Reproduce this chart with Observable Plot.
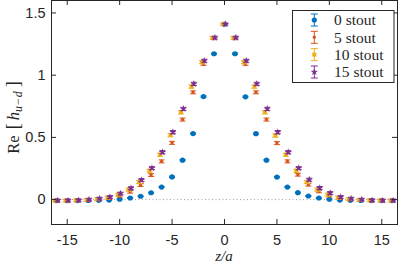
<!DOCTYPE html>
<html><head><meta charset="utf-8">
<script src="https://cdn.jsdelivr.net/npm/d3@7"></script>
<script src="https://cdn.jsdelivr.net/npm/@observablehq/plot@0.6"></script>
<style>body{margin:0;background:#fff}</style>
</head><body><div id="chart"></div>
<script>
const zValues = [-16,-15,-14,-13,-12,-11,-10,-9,-8,-7,-6,-5,-4,-3,-2,-1,0,1,2,3,4,5,6,7,8,9,10,11,12,13,14,15,16];
const seriesNames = ["0 stout","5 stout","10 stout","15 stout"];
const stout0 = [-0.008,-0.008,-0.008,-0.007,-0.006,-0.004,0.003,0.013,0.027,0.055,0.101,0.182,0.317,0.531,0.828,1.172,1.41,1.172,0.826,0.530,0.317,0.181,0.101,0.056,0.029,0.013,0.003,-0.004,-0.006,-0.007,-0.008,-0.008,-0.008];
const stout5 = [-0.008,-0.008,-0.007,-0.005,0.001,0.011,0.031,0.063,0.117,0.197,0.307,0.456,0.643,0.862,1.090,1.295,1.41,1.295,1.090,0.862,0.643,0.454,0.307,0.200,0.120,0.066,0.031,0.011,0.001,-0.005,-0.007,-0.008,-0.008];
const stout10 = [-0.008,-0.008,-0.006,-0.003,0.004,0.016,0.040,0.080,0.141,0.232,0.360,0.518,0.702,0.908,1.104,1.300,1.41,1.300,1.104,0.908,0.702,0.515,0.360,0.232,0.141,0.080,0.040,0.016,0.004,-0.003,-0.006,-0.008,-0.008];
const stout15 = [-0.007,-0.007,-0.005,0.000,0.008,0.021,0.049,0.091,0.157,0.253,0.381,0.542,0.729,0.930,1.116,1.302,1.41,1.302,1.116,0.930,0.729,0.542,0.381,0.253,0.160,0.093,0.053,0.021,0.008,0.000,-0.005,-0.007,-0.007];
// errors indexed by |z| = 0..16
const err0 = [0.004,0.005,0.005,0.005,0.005,0.005,0.004,0.004,0.004,0.004,0.004,0.004,0.004,0.004,0.004,0.004,0.004];
const err5 = [0.008,0.010,0.011,0.012,0.012,0.012,0.012,0.011,0.011,0.011,0.010,0.010,0.010,0.010,0.010,0.010,0.010];
const err10 = [0.008,0.011,0.012,0.013,0.013,0.013,0.013,0.012,0.012,0.012,0.011,0.011,0.011,0.011,0.011,0.011,0.011];
const err15 = [0.008,0.011,0.012,0.013,0.013,0.013,0.013,0.012,0.012,0.012,0.011,0.011,0.011,0.011,0.011,0.011,0.011];
const xTicks = [-15,-10,-5,0,5,10,15];
const yTicks = [0,0.5,1,1.5];
const yTickLabels = ["0","0.5","1","1.5"];

const values = [stout0, stout5, stout10, stout15];
const errors = [err0, err5, err10, err15];
const colors = ["#0072BD","#D95319","#EDB120","#7E2F8E"];
const dodge = [0, 0, -0.15, 0.08];
const markerSym = ["circle","circle","square","star"];
const markerR = [2.6, 1.7, 2.3, 2.3];
const axisColor = "#262626";

const cap = {draw(ctx, size){ const w = Math.sqrt(size/Math.PI); ctx.moveTo(-w,0); ctx.lineTo(w,0); }};

const marks = [Plot.ruleY([0], {stroke:"#9a9a9a", strokeDasharray:"1,2.5"})];
seriesNames.forEach((name, s) => {
  const rows = zValues.map((z,i) => ({z, v: values[s][i], e: errors[s][Math.abs(z)]}));
  const xf = d => d.z + dodge[s];
  marks.push(
    Plot.ruleX(rows, {x: xf, y1: d => d.v - d.e, y2: d => d.v + d.e, stroke: colors[s], strokeWidth: 1}),
    Plot.dot(rows, {x: xf, y: d => d.v + d.e, symbol: cap, r: 3, stroke: colors[s], fill: "none", strokeWidth: 1}),
    Plot.dot(rows, {x: xf, y: d => d.v - d.e, symbol: cap, r: 3, stroke: colors[s], fill: "none", strokeWidth: 1}),
    Plot.dot(rows, {x: xf, y: "v", symbol: markerSym[s], r: markerR[s], fill: colors[s], stroke: "none"})
  );
});
marks.push(
  Plot.frame({stroke: axisColor, strokeWidth: 1}),
  Plot.tickX(xTicks, {x: d => d, insetTop: 219, stroke: axisColor}),
  Plot.tickX(xTicks, {x: d => d, insetBottom: 219, stroke: axisColor}),
  Plot.tickY(yTicks, {y: d => d, insetRight: 341, stroke: axisColor}),
  Plot.tickY(yTicks, {y: d => d, insetLeft: 341, stroke: axisColor})
);

const chart = Plot.plot({
  width: 399, height: 270,
  marginLeft: 51, marginRight: 2, marginTop: 0, marginBottom: 46,
  style: {fontFamily: "Liberation Sans", fontSize: "14.5px", color: axisColor, background: "#fff", overflow: "visible"},
  x: {domain: [-16.5, 16.5], ticks: xTicks, tickSize: 0, tickPadding: 10, tickFormat: d => String(d), label: null},
  y: {domain: [-0.2, 1.6], ticks: yTicks, tickSize: 0, tickPadding: 6, tickFormat: d => yTickLabels[yTicks.indexOf(d)], label: null},
  marks
});
document.getElementById("chart").appendChild(chart);

const svg = d3.select(chart.tagName === "svg" ? chart : chart.querySelector("svg"));
// axis labels
const yl = svg.append("text")
  .attr("transform", "translate(18.5,117.5) rotate(-90)")
  .attr("text-anchor", "middle")
  .attr("font-family", "Liberation Serif").attr("font-size", 16.5).attr("fill", axisColor);
yl.append("tspan").text("Re");
yl.append("tspan").attr("dx", 6).attr("font-size", 18).text("[");
yl.append("tspan").attr("dx", 3).attr("font-style", "italic").text("h");
yl.append("tspan").attr("dy", 3.5).attr("font-size", 12).attr("font-style", "italic").text("u");
yl.append("tspan").attr("dx", 1).attr("font-size", 12).text("−");
yl.append("tspan").attr("dx", 1).attr("font-size", 12).attr("font-style", "italic").text("d");
yl.append("tspan").attr("dy", -3.5).attr("dx", 4).attr("font-size", 18).text("]");

svg.append("text").attr("x", 224).attr("y", 261).attr("text-anchor", "middle")
  .attr("font-family", "Liberation Serif").attr("font-size", 15).attr("font-style", "italic")
  .attr("fill", axisColor).text("z/a");

// legend
const lg = svg.append("g");
lg.append("rect").attr("x", 292.5).attr("y", 10.5).attr("width", 101.5).attr("height", 72)
  .attr("fill", "#fff").attr("stroke", axisColor).attr("stroke-width", 1);
const legendY = [20, 37.3, 54.6, 72];
seriesNames.forEach((name, s) => {
  const y = legendY[s], x = 314.3;
  lg.append("line").attr("x1", x).attr("x2", x).attr("y1", y - 6).attr("y2", y + 6).attr("stroke", colors[s]);
  lg.append("line").attr("x1", x - 3.5).attr("x2", x + 3.5).attr("y1", y - 6).attr("y2", y - 6).attr("stroke", colors[s]);
  lg.append("line").attr("x1", x - 3.5).attr("x2", x + 3.5).attr("y1", y + 6).attr("y2", y + 6).attr("stroke", colors[s]);
  const symType = {circle: d3.symbolCircle, square: d3.symbolSquare, star: d3.symbolStar}[markerSym[s]];
  lg.append("path").attr("transform", `translate(${x},${y})`)
    .attr("d", d3.symbol(symType, Math.PI * markerR[s] * markerR[s])()).attr("fill", colors[s]);
  lg.append("text").attr("x", 334).attr("y", y).attr("dy", "0.35em").attr("text-anchor", "start")
    .attr("font-family", "Liberation Serif").attr("font-size", 15.5).attr("fill", axisColor).text(name);
});
</script>
</body></html>
